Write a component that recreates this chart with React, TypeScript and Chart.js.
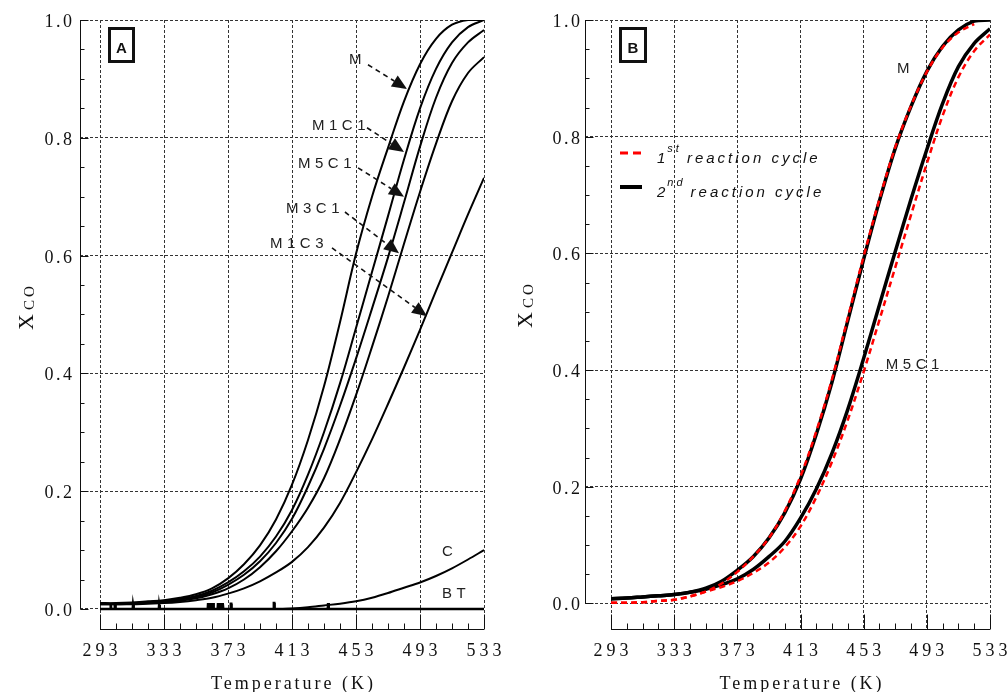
import React, { useEffect, useRef } from "react";
import { Chart, registerables } from "chart.js";
Chart.register(...registerables);

// ---------- data ----------
const temperatureK = [293, 303, 313, 323, 333, 343, 353, 363, 373, 383, 393, 403, 413, 423, 433, 443, 453, 463, 473, 483, 493, 503, 513, 523, 533];

// Panel A
const xcoM = [0.010, 0.010, 0.011, 0.013, 0.015, 0.019, 0.025, 0.035, 0.052, 0.076, 0.108, 0.152, 0.211, 0.287, 0.378, 0.487, 0.603, 0.700, 0.783, 0.862, 0.925, 0.968, 0.992, 1.0, 1.0];
const xcoM1C1 = [0.009, 0.009, 0.010, 0.012, 0.014, 0.017, 0.022, 0.031, 0.045, 0.064, 0.089, 0.123, 0.168, 0.228, 0.300, 0.383, 0.477, 0.572, 0.667, 0.763, 0.850, 0.917, 0.962, 0.988, 1.0];
const xcoM5C1 = [0.009, 0.009, 0.010, 0.011, 0.013, 0.016, 0.020, 0.028, 0.041, 0.058, 0.081, 0.112, 0.153, 0.208, 0.272, 0.345, 0.425, 0.510, 0.597, 0.690, 0.785, 0.868, 0.927, 0.962, 0.983];
const xcoM3C1 = [0.008, 0.008, 0.009, 0.010, 0.012, 0.014, 0.018, 0.025, 0.035, 0.050, 0.071, 0.098, 0.132, 0.172, 0.222, 0.288, 0.363, 0.445, 0.530, 0.620, 0.708, 0.790, 0.862, 0.910, 0.937];
const xcoM1C3 = [0.008, 0.008, 0.008, 0.009, 0.010, 0.012, 0.015, 0.019, 0.026, 0.035, 0.047, 0.062, 0.080, 0.105, 0.138, 0.180, 0.232, 0.288, 0.348, 0.410, 0.474, 0.540, 0.605, 0.670, 0.732];
const xcoC = [0, 0, 0, 0, 0, 0, 0, 0, 0, 0, 0, 0, 0.001, 0.003, 0.006, 0.009, 0.013, 0.019, 0.027, 0.036, 0.045, 0.056, 0.069, 0.084, 0.100];
const btSpikeK = [299.7, 302.4, 313.8, 330.1, 360.7, 362.2, 363.8, 366.9, 368.4, 369.7, 374.9, 401.8, 435.7];
const btSpikeH = [0.008, 0.008, 0.007, 0.007, 0.010, 0.010, 0.010, 0.010, 0.010, 0.010, 0.009, 0.010, 0.010];

// Panel B
const mFirst = [0.001, 0.001, 0.002, 0.004, 0.006, 0.012, 0.020, 0.034, 0.054, 0.080, 0.112, 0.158, 0.218, 0.295, 0.385, 0.490, 0.595, 0.693, 0.782, 0.853, 0.911, 0.953, 0.979, 0.993];
const mSecond = [0.008, 0.009, 0.011, 0.013, 0.015, 0.019, 0.026, 0.038, 0.057, 0.080, 0.112, 0.155, 0.213, 0.290, 0.380, 0.485, 0.590, 0.690, 0.780, 0.852, 0.912, 0.955, 0.983, 0.998, 1.0];
const m5c1First = [0.001, 0.001, 0.002, 0.004, 0.006, 0.012, 0.020, 0.028, 0.038, 0.052, 0.070, 0.096, 0.132, 0.182, 0.243, 0.315, 0.397, 0.486, 0.576, 0.666, 0.754, 0.836, 0.902, 0.947, 0.975];
const m5c1Second = [0.008, 0.009, 0.011, 0.013, 0.015, 0.019, 0.024, 0.032, 0.042, 0.058, 0.080, 0.106, 0.146, 0.196, 0.258, 0.333, 0.420, 0.512, 0.603, 0.693, 0.778, 0.857, 0.920, 0.960, 0.985];

// ticks
const xTicks = [293, 333, 373, 413, 453, 493, 533];
const xTickLabels = ["293", "333", "373", "413", "453", "493", "533"];
const yTicks = [0, 0.2, 0.4, 0.6, 0.8, 1.0];
const yTickLabels = ["0.0", "0.2", "0.4", "0.6", "0.8", "1.0"];
const xMinorTicks = [303, 313, 323, 343, 353, 363, 383, 393, 403, 423, 433, 443, 463, 473, 483, 503, 513, 523];
const yMinorTicks = [0.05, 0.1, 0.15, 0.25, 0.3, 0.35, 0.45, 0.5, 0.55, 0.65, 0.7, 0.75, 0.85, 0.9, 0.95];

// annotation texts (positions in data units)
const labelsA = [
  { text: "M", x: 448.6, y: 0.925 },
  { text: "M1C1", x: 425.5, y: 0.813 },
  { text: "M5C1", x: 416.75, y: 0.749 },
  { text: "M3C1", x: 409.25, y: 0.672 },
  { text: "M1C3", x: 399.25, y: 0.613 },
  { text: "C", x: 506.75, y: 0.09 },
  { text: "BT", x: 506.75, y: 0.0187 },
];
const arrowsA = [
  { x0: 460.5, y0: 0.924, x1: 484.9, y1: 0.883 },
  { x0: 459.9, y0: 0.817, x1: 483.0, y1: 0.776 },
  { x0: 454.3, y0: 0.749, x1: 483.0, y1: 0.700 },
  { x0: 446.1, y0: 0.674, x1: 479.9, y1: 0.604 },
  { x0: 438.0, y0: 0.613, x1: 497.4, y1: 0.497 },
];
const labelsB = [
  { text: "M", x: 474.1, y: 0.909 },
  { text: "M5C1", x: 467.0, y: 0.402 },
];

const pts = (xs: number[], ys: number[]) => ys.map((v, i) => ({ x: xs[i], y: v }));
const btPoints = () => {
  const out: { x: number; y: number }[] = [{ x: 293, y: 0 }];
  btSpikeK.forEach((k, i) => {
    out.push({ x: k - 0.35, y: 0 }, { x: k - 0.15, y: btSpikeH[i] }, { x: k + 0.15, y: btSpikeH[i] }, { x: k + 0.35, y: 0 });
  });
  out.push({ x: 533, y: 0 });
  return out;
};

const SERIF = '"Liberation Serif", "Times New Roman", serif';
const SANS = '"Liberation Sans", Arial, sans-serif';

function spaced(ctx: CanvasRenderingContext2D, text: string, x: number, y: number, ls: number, align: string) {
  ctx.letterSpacing = "0px";
  const w0 = ctx.measureText(text).width;
  const w = w0 + ls * (text.length - 1);
  let x0 = x;
  if (align === "center") x0 = x - w / 2;
  else if (align === "right") x0 = x - w;
  ctx.textAlign = "left";
  ctx.letterSpacing = ls + "px";
  ctx.fillText(text, x0, y);
  ctx.letterSpacing = "0px";
  return w;
}

const decor = {
  id: "decor",
  afterDraw(chart: any, _args: any, opts: any) {
    const P = opts.panel;
    const { ctx, chartArea } = chart;
    const xs = chart.scales.x;
    const ys = chart.scales.y;
    const X = (v: number) => xs.getPixelForValue(v);
    const Y = (v: number) => ys.getPixelForValue(v);
    const al = (v: number) => Math.round(v) + 0.5;
    ctx.save();
    ctx.strokeStyle = "#111";
    ctx.fillStyle = "#111";
    ctx.lineWidth = 1;
    ctx.setLineDash([]);
    const seg = (a: number, b: number, c: number, d: number) => {
      ctx.beginPath();
      ctx.moveTo(a, b);
      ctx.lineTo(c, d);
      ctx.stroke();
    };
    const left = al(chartArea.left);
    const bottom = al(chartArea.bottom);
    // axes
    seg(left, Y(1), left, al(Y(0)));
    seg(X(xTicks[0]), bottom, X(xTicks[xTicks.length - 1]), bottom);
    xTicks.forEach((v) => seg(al(X(v)), bottom, al(X(v)), bottom - 15));
    xMinorTicks.forEach((v) => seg(al(X(v)), bottom, al(X(v)), bottom - 6));
    yTicks.forEach((v) => seg(left, al(Y(v)), left + 8, al(Y(v))));
    yMinorTicks.forEach((v) => seg(left, al(Y(v)), left + 4, al(Y(v))));

    // tick labels
    ctx.font = "18px " + SERIF;
    ctx.textBaseline = "alphabetic";
    xTicks.forEach((v, i) => spaced(ctx, xTickLabels[i], X(v), chartArea.bottom + 27, 4, "center"));
    yTicks.forEach((v, i) => spaced(ctx, yTickLabels[i], chartArea.left - P.yLabelGap, Y(v) + 7, 2.5, "right"));

    // axis titles
    ctx.font = "18px " + SERIF;
    spaced(ctx, "Temperature (K)", (X(xTicks[0]) + X(xTicks[xTicks.length - 1])) / 2, chartArea.bottom + 60, 3, "center");
    ctx.save();
    ctx.translate(P.yTitleX, P.yTitleY);
    ctx.rotate(-Math.PI / 2);
    ctx.font = "22px " + SERIF;
    const wx = spaced(ctx, "X", 0, 0, 0, "left");
    ctx.font = "15px " + SERIF;
    spaced(ctx, "CO", wx + 4, 1, 3, "left");
    ctx.restore();

    // panel box
    ctx.lineWidth = 3;
    ctx.strokeRect(P.box.x + 1.5, P.box.y + 1.5, P.box.w - 3, P.box.h - 3);
    ctx.font = "bold 15px " + SANS;
    spaced(ctx, P.letter, P.box.x + P.box.w / 2, P.box.y + 26, 0, "center");

    // annotation labels
    ctx.fillStyle = "#222";
    ctx.font = "15px " + SANS;
    P.labels.forEach((l: any) => spaced(ctx, l.text, X(l.x), Y(l.y), 4.5, "left"));

    // arrows
    ctx.strokeStyle = "#111";
    ctx.fillStyle = "#111";
    P.arrows.forEach((a: any) => {
      const x0 = X(a.x0), y0 = Y(a.y0), x1 = X(a.x1), y1 = Y(a.y1);
      const dx = x1 - x0, dy = y1 - y0;
      const L = Math.hypot(dx, dy);
      const ux = dx / L, uy = dy / L;
      const head = 15, hw = 6.5;
      const bx = x1 - ux * head, by = y1 - uy * head;
      ctx.lineWidth = 1.6;
      ctx.setLineDash([5, 4]);
      ctx.beginPath();
      ctx.moveTo(x0, y0);
      ctx.lineTo(bx, by);
      ctx.stroke();
      ctx.setLineDash([]);
      ctx.beginPath();
      ctx.moveTo(x1, y1);
      ctx.lineTo(bx - uy * hw, by + ux * hw);
      ctx.lineTo(bx + uy * hw, by - ux * hw);
      ctx.closePath();
      ctx.fill();
    });

    // legend
    if (P.legend) {
      const lg = P.legend;
      ctx.lineWidth = 3;
      ctx.strokeStyle = "#ff0000";
      ctx.setLineDash([8, 5]);
      seg(lg.x, lg.y1, lg.x + 22, lg.y1);
      ctx.setLineDash([]);
      ctx.strokeStyle = "#000";
      ctx.lineWidth = 4;
      seg(lg.x, lg.y2, lg.x + 22, lg.y2);
      ctx.fillStyle = "#111";
      const rows = [
        { n: "1", s: "st", y: lg.y1 },
        { n: "2", s: "nd", y: lg.y2 },
      ];
      rows.forEach((r) => {
        ctx.font = "italic 15px " + SANS;
        const w1 = spaced(ctx, r.n, lg.x + 37, r.y + 10, 3, "left");
        ctx.font = "italic 11px " + SANS;
        const w2 = spaced(ctx, r.s, lg.x + 37 + w1 + 2, r.y - 1, 3, "left");
        ctx.font = "italic 15px " + SANS;
        spaced(ctx, "reaction cycle", lg.x + 37 + w1 + w2 + 10, r.y + 10, 3, "left");
      });
    }
    ctx.restore();
  },
};

function Panel(props: { cfg: any; left: number }) {
  const ref = useRef<HTMLCanvasElement>(null);
  useEffect(() => {
    const P = props.cfg;
    const chart = new Chart(ref.current as HTMLCanvasElement, {
      type: "line",
      data: { datasets: P.datasets },
      options: {
        animation: false,
        responsive: false,
        devicePixelRatio: 1,
        layout: { padding: { left: 0, right: P.padRight, top: 20, bottom: 0 } },
        elements: { point: { radius: 0 } },
        plugins: { legend: { display: false }, tooltip: { enabled: false }, decor: { panel: P } } as any,
        scales: {
          x: {
            type: "linear",
            min: P.xMin,
            max: P.xMax,
            afterBuildTicks: (s: any) => {
              s.ticks = xTicks.map((v) => ({ value: v }));
            },
            afterFit: (s: any) => {
              s.height = 63;
            },
            ticks: { display: false },
            grid: { color: "#333", lineWidth: 1, drawTicks: false },
            border: { display: false, dash: [3, 2] },
          },
          y: {
            type: "linear",
            min: P.yMin,
            max: 1,
            afterBuildTicks: (s: any) => {
              s.ticks = yTicks.map((v) => ({ value: v }));
            },
            afterFit: (s: any) => {
              s.width = P.yWidth;
            },
            ticks: { display: false },
            grid: { color: "#333", lineWidth: 1, drawTicks: false },
            border: { display: false, dash: [3, 2] },
          },
        },
      } as any,
      plugins: [decor as any],
    });
    return () => chart.destroy();
  }, []);
  return <canvas ref={ref} width={504} height={692} style={{ position: "absolute", left: props.left, top: 0, width: 504, height: 692 }} />;
}

const solid = (label: string, data: any, width = 2) => ({
  label,
  data,
  borderColor: "#000",
  borderWidth: width,
  pointRadius: 0,
  fill: false,
  tension: 0.35,
});

const panelA = {
  letter: "A",
  xMin: 280.5,
  xMax: 533,
  yMin: -0.034,
  padRight: 20,
  yWidth: 80,
  yLabelGap: 8,
  yTitleX: 33,
  yTitleY: 330,
  box: { x: 108, y: 27, w: 27, h: 36 },
  labels: labelsA,
  arrows: arrowsA,
  legend: null,
  datasets: [
    solid("M", pts(temperatureK, xcoM)),
    solid("M1C1", pts(temperatureK, xcoM1C1)),
    solid("M5C1", pts(temperatureK, xcoM5C1)),
    solid("M3C1", pts(temperatureK, xcoM3C1)),
    solid("M1C3", pts(temperatureK, xcoM1C3)),
    { ...solid("C", pts(temperatureK, xcoC)), cubicInterpolationMode: "monotone" },
    { ...solid("BT", btPoints(), 2.5), tension: 0 },
  ],
};

const red = (label: string, data: any) => ({
  label,
  data,
  borderColor: "#ff0000",
  borderWidth: 2.5,
  borderDash: [6, 4],
  pointRadius: 0,
  fill: false,
  tension: 0.35,
});

const panelB = {
  letter: "B",
  xMin: 276.5,
  xMax: 533,
  yMin: -0.044,
  padRight: 18,
  yWidth: 81,
  yLabelGap: 5,
  yTitleX: 28,
  yTitleY: 328,
  box: { x: 115, y: 27, w: 28, h: 36 },
  labels: labelsB,
  arrows: [],
  legend: { x: 116, y1: 153, y2: 187 },
  datasets: [
    red("M 1st", pts(temperatureK, mFirst)),
    red("M5C1 1st", pts(temperatureK, m5c1First)),
    solid("M 2nd", pts(temperatureK, mSecond), 3.5),
    solid("M5C1 2nd", pts(temperatureK, m5c1Second), 3.5),
  ],
};

export default function App() {
  return (
    <div style={{ position: "absolute", left: 0, top: 0, width: 1008, height: 692, background: "#fff" }}>
      <Panel cfg={panelA} left={0} />
      <Panel cfg={panelB} left={504} />
    </div>
  );
}
